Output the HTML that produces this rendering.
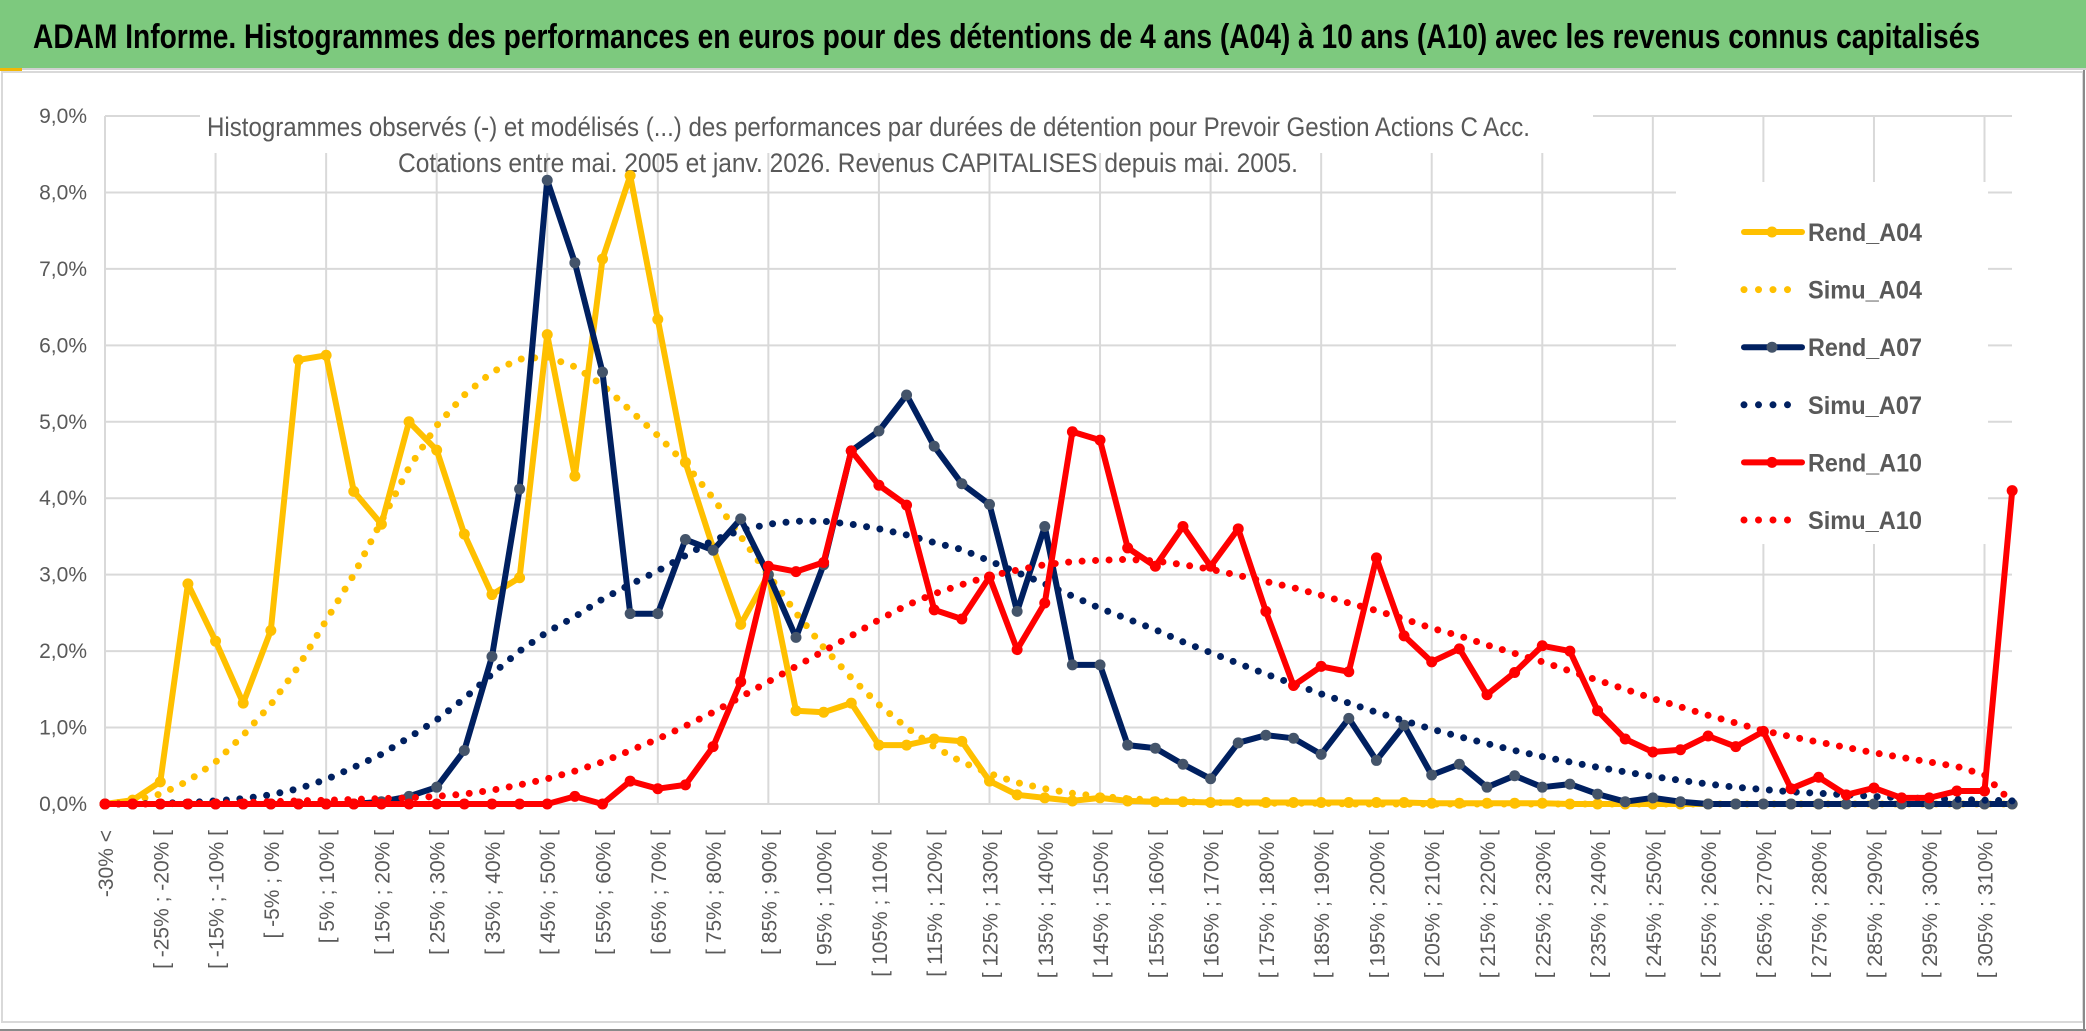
<!DOCTYPE html>
<html><head><meta charset="utf-8"><style>
html,body{margin:0;padding:0;background:#fff;}
svg{display:block;}
text{font-family:"Liberation Sans",sans-serif;}
</style></head><body>
<svg id="chart" width="2086" height="1031" viewBox="0 0 2086 1031" xmlns="http://www.w3.org/2000/svg">
<rect x="0" y="0" width="2086" height="1031" fill="#fff"/>
<rect x="0" y="0" width="2086" height="68" fill="#7dc97e"/>
<line x1="0" y1="69" x2="2086" y2="69" stroke="#d0d0d0" stroke-width="2"/>
<rect x="0" y="68" width="22" height="3" fill="#f2b705"/>
<text x="33" y="48" font-size="34" font-weight="bold" fill="#000" textLength="1947" lengthAdjust="spacingAndGlyphs" style="font-family:'Liberation Sans Narrow','Liberation Sans',sans-serif">ADAM Informe. Histogrammes des performances en euros pour des détentions de 4 ans (A04) à 10 ans (A10) avec les revenus connus capitalisés</text>
<rect x="2" y="72" width="2081" height="950" fill="none" stroke="#d9d9d9" stroke-width="2"/>
<line x1="2084" y1="70" x2="2084" y2="1031" stroke="#8a8a8a" stroke-width="2"/>
<line x1="0" y1="1030" x2="2086" y2="1030" stroke="#8a8a8a" stroke-width="2"/>
<g id="grid"></g>
<rect x="200" y="100" width="1393" height="53" fill="#fff"/>
<text x="207" y="136" font-size="27" fill="#595959" textLength="1323" lengthAdjust="spacingAndGlyphs" style="font-family:'Liberation Sans Narrow','Liberation Sans',sans-serif">Histogrammes observés (-) et modélisés (...) des performances par durées de détention pour Prevoir Gestion Actions C Acc.</text>
<text x="398" y="172" font-size="27" fill="#595959" textLength="900" lengthAdjust="spacingAndGlyphs" style="font-family:'Liberation Sans Narrow','Liberation Sans',sans-serif">Cotations entre mai. 2005 et janv. 2026. Revenus CAPITALISES depuis mai. 2005.</text>
<g id="yaxis"></g>
<g id="xaxis"></g>
<g id="series"></g>
<g id="legend"></g>
</svg>
<script>
const yTicks = [0,1,2,3,4,5,6,7,8,9];
const nCats = 70;
const rendA04 = [0,0.05,0.29,2.88,2.13,1.32,2.27,5.81,5.87,4.09,3.66,5.0,4.63,3.53,2.74,2.96,6.14,4.29,7.13,8.22,6.34,4.47,3.35,2.35,3.0,1.22,1.2,1.32,0.77,0.77,0.85,0.82,0.3,0.12,0.08,0.04,0.08,0.04,0.03,0.03,0.02,0.02,0.02,0.02,0.02,0.02,0.02,0.02,0.01,0.01,0.01,0.01,0.01,0,0,0,0,0,0,0,0,0,0,0,0,0,0,0,0,0];
const simuA04 = [0,0.04,0.13,0.3,0.55,0.9,1.3,1.8,2.4,3.0,3.7,4.4,4.95,5.35,5.65,5.82,5.85,5.72,5.48,5.15,4.82,4.45,4.0,3.5,3.0,2.5,2.05,1.65,1.3,1.0,0.75,0.55,0.4,0.28,0.2,0.14,0.1,0.07,0.05,0.03,0.02,0.015,0.01,0.01,0.01,0,0,0,0,0,0,0,0,0,0,0,0,0,0,0,0,0,0,0,0,0,0,0,0,0];
const rendA07 = [0,0,0,0,0,0,0,0,0,0,0.03,0.1,0.22,0.7,1.93,4.12,8.16,7.08,5.65,2.49,2.49,3.46,3.32,3.73,3.0,2.18,3.13,4.62,4.88,5.35,4.68,4.19,3.92,2.52,3.63,1.82,1.82,0.77,0.73,0.52,0.33,0.8,0.9,0.86,0.65,1.12,0.57,1.03,0.38,0.52,0.22,0.37,0.22,0.26,0.13,0.03,0.08,0.03,0,0,0,0,0,0,0,0,0,0,0,0];
const simuA07 = [0,0,0.01,0.02,0.04,0.07,0.12,0.2,0.32,0.48,0.65,0.87,1.1,1.38,1.7,2.0,2.25,2.45,2.68,2.87,3.05,3.25,3.45,3.58,3.66,3.7,3.7,3.66,3.6,3.52,3.42,3.33,3.18,3.03,2.88,2.72,2.56,2.42,2.28,2.12,1.98,1.84,1.7,1.57,1.44,1.32,1.2,1.09,0.98,0.88,0.79,0.7,0.62,0.55,0.48,0.42,0.36,0.31,0.26,0.22,0.19,0.16,0.14,0.12,0.1,0.08,0.07,0.06,0.05,0.04];
const rendA10 = [0,0,0,0,0,0,0,0,0,0,0,0,0,0,0,0,0,0.1,0,0.3,0.2,0.25,0.75,1.6,3.11,3.04,3.16,4.62,4.17,3.91,2.54,2.42,2.97,2.02,2.63,4.87,4.76,3.35,3.11,3.63,3.11,3.6,2.52,1.55,1.8,1.73,3.22,2.2,1.86,2.03,1.43,1.72,2.07,2.0,1.22,0.85,0.68,0.71,0.89,0.75,0.95,0.2,0.35,0.12,0.21,0.08,0.08,0.17,0.17,4.1];
const simuA10 = [0,0,0,0.01,0.01,0.02,0.03,0.04,0.05,0.06,0.07,0.08,0.1,0.13,0.18,0.25,0.33,0.43,0.55,0.7,0.85,1.02,1.2,1.4,1.6,1.8,2.0,2.2,2.41,2.6,2.75,2.87,2.98,3.06,3.13,3.17,3.19,3.2,3.18,3.13,3.07,2.99,2.91,2.83,2.73,2.63,2.53,2.42,2.3,2.2,2.08,1.97,1.86,1.74,1.62,1.5,1.38,1.27,1.16,1.06,0.96,0.88,0.81,0.74,0.67,0.61,0.55,0.49,0.38,0.02];
const seriesNames = ["Rend_A04","Simu_A04","Rend_A07","Simu_A07","Rend_A10","Simu_A10"];

const NS = "http://www.w3.org/2000/svg";
const X0 = 105, DX = 27.64, Y0 = 804, DY = 76.44, XR = 2012;
function xPos(i){ return X0 + DX*i; }
function yPos(v){ return Y0 - DY*v; }
function mk(tag, attrs, parent){ const e=document.createElementNS(NS,tag); for(const k in attrs) e.setAttribute(k,attrs[k]); parent.appendChild(e); return e; }
function catLabel(i){ if(i===0) return "-30% <"; const lo=-35+5*i, hi=lo+5; return "[ "+lo+"% ; "+hi+"% ["; }

const grid=document.getElementById('grid');
yTicks.forEach(t=>{
  const l=mk('line',{x1:X0,x2:XR,y1:yPos(t),y2:yPos(t),stroke:'#d9d9d9','stroke-width':2},grid);
  
  
});
for(let i=0;i<nCats;i+=4){
  const l=mk('line',{x1:xPos(i),x2:xPos(i),y1:yPos(9),y2:Y0,stroke:'#d9d9d9','stroke-width':2},grid);
  
  
}
const yax=document.getElementById('yaxis');
yTicks.forEach(t=>{
  const tx=mk('text',{x:87,y:yPos(t)+7,'text-anchor':'end','font-size':21,fill:'#595959'},yax);
  tx.textContent=t.toFixed(1).replace('.',',')+'%';
  
  
});
const xax=document.getElementById('xaxis');
for(let i=0;i<nCats;i+=2){
  const x=xPos(i), y=830;
  const tx=mk('text',{x:x,y:y,'text-anchor':'end','font-size':21,fill:'#595959',transform:'rotate(-90 '+x+' '+y+')',dx:0,dy:8},xax);
  tx.textContent=catLabel(i);
  
  
}
const sg=document.getElementById('series');
function path(vals){ return vals.map((v,i)=>(i?'L':'M')+xPos(i).toFixed(1)+' '+yPos(v).toFixed(1)).join(' '); }
function solid(vals,color,mcolor,name){
  const g=mk('g',{},sg);
  
  
  const p=mk('path',{d:path(vals),fill:'none',stroke:color,'stroke-width':6,'stroke-linejoin':'round'},g);
  
  
  vals.forEach((v,i)=>{
    const c=mk('circle',{cx:xPos(i),cy:yPos(v),r:5.5,fill:mcolor},g);
    
    
  });
}
function dotted(vals,color,name){
  const p=mk('path',{d:path(vals),fill:'none',stroke:color,'stroke-width':7,'stroke-linecap':'round','stroke-dasharray':'0 13.5'},sg);
  
  
}
solid(rendA04,'#ffc000','#ffc000','rend-a04');
dotted(simuA04,'#ffc000','simu-a04');
solid(rendA07,'#002060','#44546a','rend-a07');
dotted(simuA07,'#002060','simu-a07');
solid(rendA10,'#ff0000','#ff0000','rend-a10');
dotted(simuA10,'#ff0000','simu-a10');

const lg=document.getElementById('legend');
const bg=mk('rect',{x:1676,y:182,width:312,height:362,fill:'#fff'},lg);


const lcolors=['#ffc000','#ffc000','#002060','#002060','#ff0000','#ff0000'];
const mcolors=['#ffc000','#ffc000','#44546a','#002060','#ff0000','#ff0000'];
seriesNames.forEach((n,k)=>{
  const y=232+k*57.6;
  const g=mk('g',{},lg);
  
  
  if(k%2===0){
    mk('line',{x1:1744,x2:1802,y1:y,y2:y,stroke:lcolors[k],'stroke-width':6,'stroke-linecap':'round'},g);
    mk('circle',{cx:1772,cy:y,r:5.5,fill:mcolors[k]},g);
  } else {
    mk('line',{x1:1744,x2:1795,y1:y,y2:y,stroke:lcolors[k],'stroke-width':7,'stroke-linecap':'round','stroke-dasharray':'0 14.5'},g);
  }
  const t=mk('text',{x:1808,y:y+9,'font-size':25,'font-weight':'bold',fill:'#595959',textLength:114,lengthAdjust:'spacingAndGlyphs'},g);
  t.textContent=n;
});
</script>
</body></html>
